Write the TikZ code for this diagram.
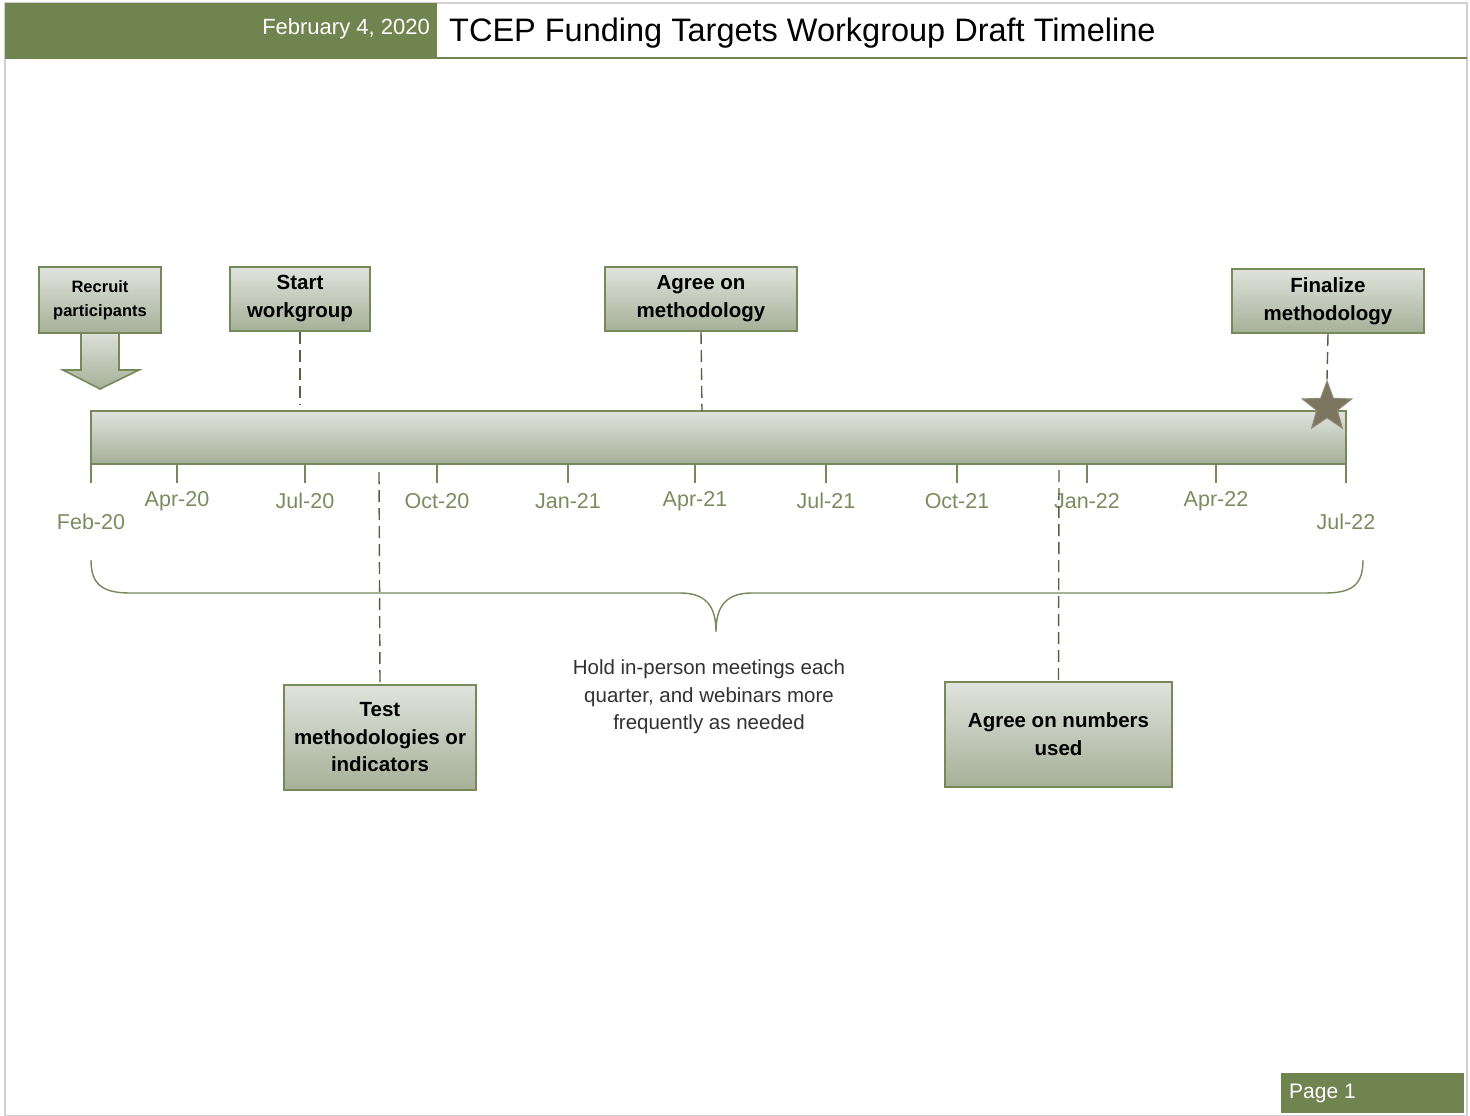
\documentclass[tikz,border=0pt]{standalone}
\usepackage{fontspec}
\setmainfont{Liberation Sans}
\usetikzlibrary{shapes.geometric}
\definecolor{hdrgreen}{RGB}{112,132,80}
\definecolor{boxedge}{RGB}{118,137,90}
\definecolor{boxtop}{RGB}{224,227,220}
\definecolor{boxbot}{RGB}{166,176,152}
\definecolor{axislbl}{RGB}{122,140,94}
\definecolor{dashcol}{RGB}{85,96,68}
\definecolor{starfill}{RGB}{124,118,96}
\definecolor{framegray}{RGB}{208,208,208}
\definecolor{bodytext}{RGB}{50,50,50}
\tikzset{
  evbox/.style={draw=boxedge, line width=1.6pt, top color=boxtop, bottom color=boxbot,
    align=center, inner sep=2pt, font=\bfseries\fontsize{20.5}{28}\selectfont, text=black},
  leader/.style={draw=dashcol, line width=1.4pt, dash pattern=on 12pt off 6pt},
  tickline/.style={draw=boxedge, line width=2pt},
  ticklbl/.style={text=axislbl, font=\fontsize{21.5}{25}\selectfont, inner sep=0pt},
}
\begin{document}
\begin{tikzpicture}[x=1pt,y=-1pt]
\useasboundingbox (0,0) rectangle (1470,1116);
% page frame
\draw[framegray, line width=1.5pt] (5,3) rectangle (1467,1116);
% header
\fill[hdrgreen] (5,3) rectangle (437,58);
\fill[white] (437,4) rectangle (1466,57);
\draw[hdrgreen, line width=2pt] (5,58) -- (1467,58);
\node[anchor=east, text=white, font=\fontsize{22}{25}\selectfont, inner sep=0pt] (date) at (430,29) {February 4, 2020};
\node[anchor=west, text=black, font=\fontsize{32.5}{40}\selectfont, inner sep=0pt] (title) at (449,33) {TCEP Funding Targets Workgroup Draft Timeline};
% page label
\node[fill=hdrgreen, minimum width=183pt, minimum height=40pt, inner sep=0pt] (pagebox) at (1372.5,1093) {};
\node[anchor=west, text=white, font=\fontsize{21}{25}\selectfont, inner sep=0pt] (pagetxt) at (1289,1093) {Page 1};

% timeline bar
\node[draw=boxedge, line width=2pt, top color=boxtop, bottom color=boxbot, minimum width=1255pt, minimum height=53pt, inner sep=0pt] (bar) at (718.5,437.5) {};

% ticks and labels
\foreach \x/\lbl/\ly in {91/Feb-20/522, 177/Apr-20/501, 305/Jul-20/501, 437/Oct-20/501, 568/Jan-21/501, 695/Apr-21/501, 826/Jul-21/501, 957/Oct-21/501, 1087/Jan-22/501, 1216/Apr-22/501, 1346/Jul-22/522} {
  \draw[tickline] (\x,464) -- (\x,483);
  \node[ticklbl] (t\x) at (\x,\ly) {\lbl};
}

% brace
\draw[boxedge, line width=1.4pt] (91,560) .. controls (91,584) and (102,593) .. (130,593) -- (680,593) .. controls (706,593) and (716,606) .. (716,632) .. controls (716,606) and (726,593) .. (752,593) -- (1325,593) .. controls (1353,593) and (1363,584) .. (1363,560);
\node[align=center, text=bodytext, font=\fontsize{20.5}{27.5}\selectfont, inner sep=0pt] (hold) at (709,697) {Hold in-person meetings each\\quarter, and webinars more\\frequently as needed};

% recruit arrow
\path[draw=boxedge, line width=1.6pt, top color=boxtop, bottom color=boxbot] (81,330) -- (81,370) -- (63,370) -- (100,389) -- (139,370) -- (119,370) -- (119,330);
\node[evbox, minimum width=122pt, minimum height=66pt, font=\bfseries\fontsize{16.5}{24}\selectfont] (recruit) at (100,300) {Recruit\\participants};

% top boxes
\node[evbox, minimum width=140pt, minimum height=64pt] (start) at (300,299) {Start\\workgroup};
\node[evbox, minimum width=192pt, minimum height=64pt] (agree) at (701,299) {Agree on\\methodology};
\node[evbox, minimum width=192pt, minimum height=64pt] (final) at (1328,301) {Finalize\\methodology};

% bottom boxes
\node[evbox, minimum width=192pt, minimum height=105pt, font=\bfseries\fontsize{20.5}{27.5}\selectfont] (test) at (380,737.5) {Test\\methodologies or\\indicators};
\node[evbox, minimum width=227pt, minimum height=105pt] (numbers) at (1058.5,734.5) {Agree on numbers\\used};

% star
\node[star, star points=5, star point ratio=2.4, minimum size=52pt, inner sep=0pt, fill=starfill, draw=starfill!85!white, line width=1pt] (star) at (1327,407) {};

% leaders
\coordinate (startend) at (300,404);
\coordinate (agreeend) at (702,411);
\coordinate (testtop) at (379,472);
\coordinate (numtop) at (1059,470);
\draw[leader] (start.south) -- (startend);
\draw[leader] (agree.south) -- (agreeend);
\draw[leader] (final.south) -- (star.north);
\draw[leader] (testtop) -- (test.north);
\draw[leader] (numtop) -- (numbers.north);
\end{tikzpicture}
\end{document}
